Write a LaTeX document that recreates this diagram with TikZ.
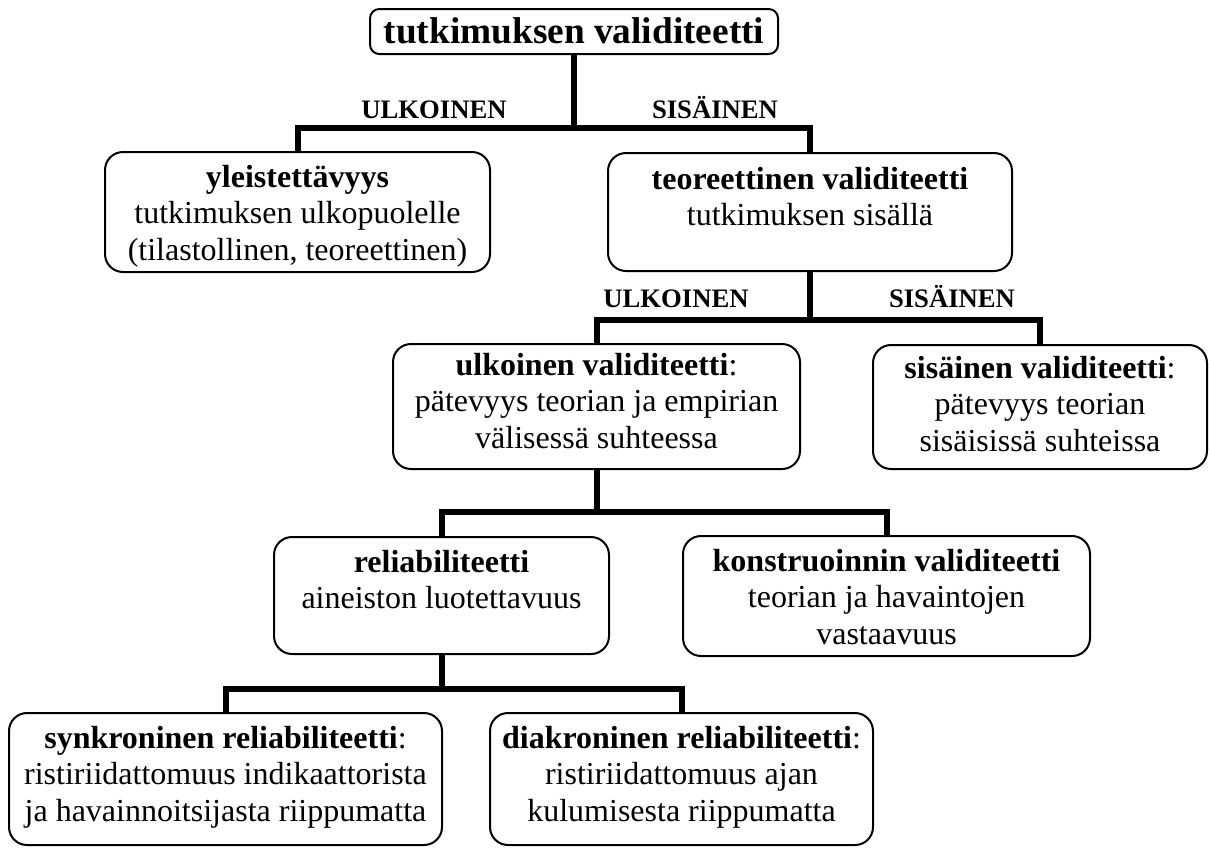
\documentclass[tikz,border=0pt]{standalone}
\usepackage{fontspec}
\setmainfont{Liberation Serif}
\newdimen\px \px=0.75pt
% width, height, first baseline, text (all in px)
\newcommand\bxt[4]{\begin{minipage}[t][#2\px][t]{#1\px}\centering\rule{0pt}{#3\px}#4\end{minipage}}
\tikzset{
  box/.style={draw=black, line width=1.5pt, rounded corners=13.5pt, inner sep=0pt, outer sep=0pt, fill=white,
    font=\fontsize{24}{27.6}\selectfont},
  titlebox/.style={box, rounded corners=7pt, font=\fontsize{28}{33}\selectfont\bfseries},
  conn/.style={draw=black, line width=4.5pt, line join=miter},
  lab/.style={anchor=base, inner sep=0pt, font=\fontsize{20}{24}\selectfont\bfseries}
}
\begin{document}
\begin{tikzpicture}[x=0.75pt, y=-0.75pt]
\useasboundingbox (0,0) rectangle (1209,847);

\node[titlebox] (top) at (574,31.5) {\bxt{408}{45}{34}{tutkimuksen validiteetti}};

\node[box] (yl) at (297.5,212) {\bxt{385}{120}{35}{\textbf{yleistettävyys}\\tutkimuksen ulkopuolelle\\(tilastollinen, teoreettinen)}};
\node[box] (teor) at (810,212) {\bxt{404}{118}{36}{\textbf{teoreettinen validiteetti}\\tutkimuksen sisällä}};

\node[box] (ulk) at (596.5,406.5) {\bxt{407}{125}{31}{\textbf{ulkoinen validiteetti}:\\pätevyys teorian ja empirian\\välisessä suhteessa}};
\node[box] (sis) at (1040,407) {\bxt{334}{124}{33}{\textbf{sisäinen validiteetti}:\\pätevyys teorian\\sisäisissä suhteissa}};

\node[box] (rel) at (441.5,595.5) {\bxt{335}{117}{35}{\textbf{reliabiliteetti}\\aineiston luotettavuus}};
\node[box] (kon) at (886.5,596) {\bxt{407}{120}{35}{\textbf{konstruoinnin validiteetti}\\teorian ja havaintojen\\vastaavuus}};

\node[box] (syn) at (225.5,779) {\bxt{433}{132}{35}{\textbf{synkroninen reliabiliteetti}:\\ristiriidattomuus indikaattorista\\ja havainnoitsijasta riippumatta}};
\node[box] (dia) at (681.5,779) {\bxt{383}{132}{35}{\textbf{diakroninen reliabiliteetti}:\\ristiriidattomuus ajan\\kulumisesta riippumatta}};

% connectors
\path (top.south) ++(0,74) coordinate (j1);
\draw[conn] (top.south) -- (j1);
\draw[conn] (yl.north) |- (j1) -| (teor.north);

\path (teor.south) ++(0,49) coordinate (j2);
\draw[conn] (teor.south) -- (j2);
\draw[conn] (ulk.north) |- (j2) -| (sis.north);

\path (ulk.south) ++(0,43) coordinate (j3);
\draw[conn] (ulk.south) -- (j3);
\draw[conn] (rel.north) |- (j3) -| (kon.north);

\path (rel.south) ++(0,35) coordinate (j4);
\draw[conn] (rel.south) -- (j4);
\draw[conn] (syn.north) |- (j4) -| (dia.north);

% labels
\node[lab] (l1u) at (434,118) {ULKOINEN};
\node[lab] (l1s) at (715,118) {SISÄINEN};
\node[lab] (l2u) at (676,307) {ULKOINEN};
\node[lab] (l2s) at (952,307) {SISÄINEN};
\end{tikzpicture}
\end{document}
